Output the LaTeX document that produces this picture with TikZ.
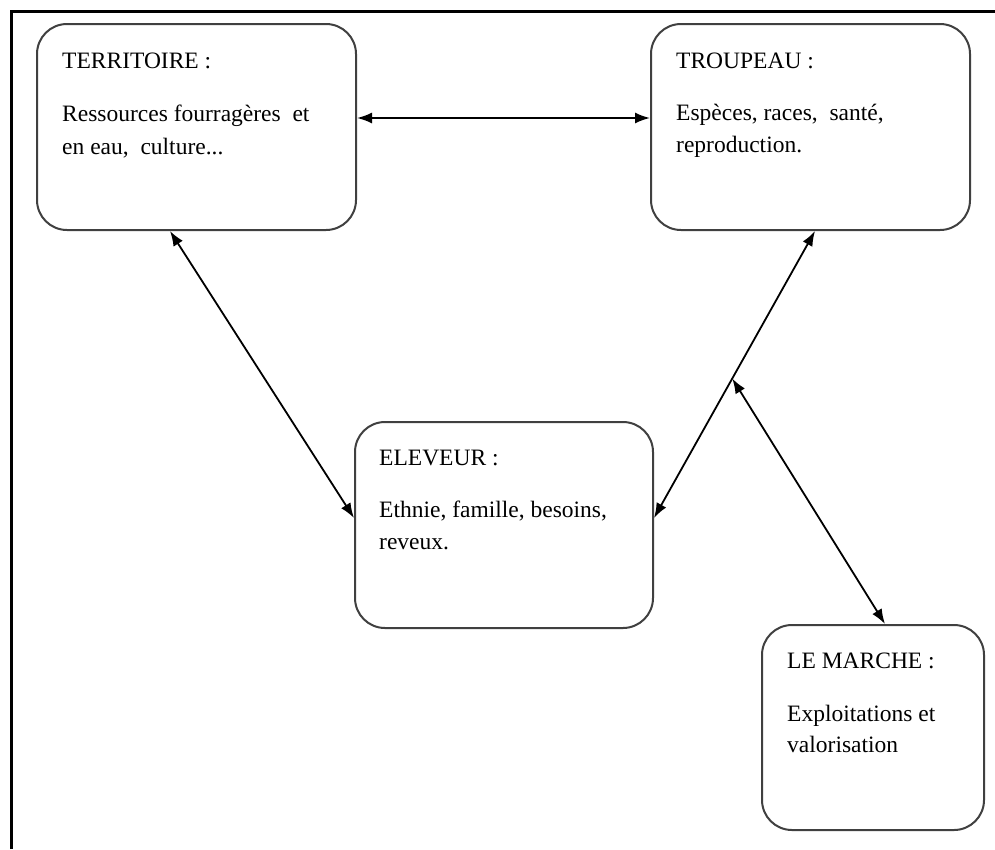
\documentclass[tikz,border=0pt]{standalone}
\usepackage{fontspec}
\setmainfont{Liberation Serif}
\usetikzlibrary{arrows.meta,calc}
\begin{document}
\begin{tikzpicture}[x=1pt,y=-1pt,
  box/.style={draw=black!75, line width=2pt, rounded corners=30pt, inner sep=0pt},
  txt/.style={anchor=base west, inner sep=0pt, font=\fontsize{23.5}{33}\selectfont},
  link/.style={line width=1.8pt, {Latex[length=15pt,width=11pt]}-{Latex[length=15pt,width=11pt]}}]
\useasboundingbox (0,0) rectangle (995,849);
% outer frame (top and left only visible)
\draw[line width=2.6pt] (11.5,849) -- (11.5,11.5) -- (995,11.5);
% boxes
\node[box, minimum width=319pt, minimum height=206pt] (terr) at (196.5,127) {};
\node[box, minimum width=319pt, minimum height=206pt] (troup) at (810.5,127) {};
\node[box, minimum width=298pt, minimum height=206pt] (elev) at (504,525) {};
\node[box, minimum width=222pt, minimum height=205pt] (march) at (873,727.5) {};
% texts
\node[txt] (terrT) at ($(terr.north west)+(26,45)$) {TERRITOIRE :};
\node[txt] (terrB1) at ($(terr.north west)+(26,98)$) {Ressources\ fourragères\ \ et};
\node[txt] (terrB2) at ($(terr.north west)+(26,131)$) {en eau,\ \ culture...};
\node[txt] (troupT) at ($(troup.north west)+(26,45)$) {TROUPEAU :};
\node[txt] (troupB1) at ($(troup.north west)+(26,97)$) {Espèces, races,\ \ santé,};
\node[txt] (troupB2) at ($(troup.north west)+(26,129)$) {reproduction.};
\node[txt] (elevT) at ($(elev.north west)+(25,44)$) {ELEVEUR :};
\node[txt] (elevB1) at ($(elev.north west)+(25,96)$) {Ethnie, famille, besoins,};
\node[txt] (elevB2) at ($(elev.north west)+(25,128)$) {reveux.};
\node[txt] (marchT) at ($(march.north west)+(26,44)$) {LE MARCHE :};
\node[txt] (marchB1) at ($(march.north west)+(26,97)$) {Exploitations et};
\node[txt] (marchB2) at ($(march.north west)+(26,128)$) {valorisation};
% connectors
\draw[link] ([yshift=9pt]terr.east) -- ([yshift=9pt]troup.west);
\draw[link] ([xshift=-26.5pt]terr.south) -- ([yshift=7pt]elev.west);
\draw[link] ([xshift=4.5pt]troup.south) -- ([yshift=7pt]elev.east) coordinate[pos=0.514] (j);
\draw[link] (j) -- ([xshift=12pt]march.north);
\end{tikzpicture}
\end{document}
